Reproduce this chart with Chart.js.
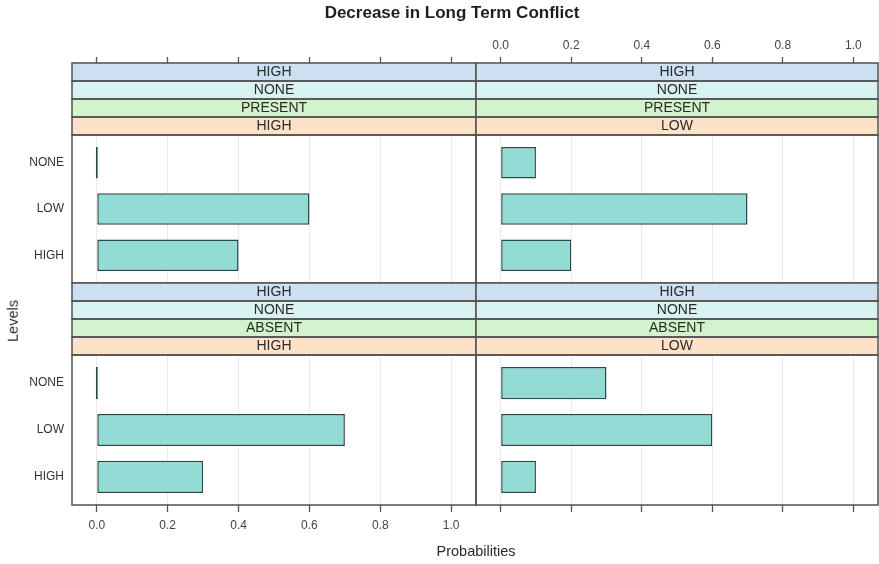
<!DOCTYPE html>
<html>
<head>
<meta charset="utf-8">
<title>Decrease in Long Term Conflict</title>
<script src="https://cdn.jsdelivr.net/npm/chart.js@4.4.1/dist/chart.umd.min.js"></script>
<style>
  html, body { margin: 0; padding: 0; background: #fff; }
  #wrap { position: relative; width: 879px; height: 564px; overflow: hidden;
          font-family: "Liberation Sans", Arial, sans-serif; }
  #wrap canvas { position: absolute; left: 0; top: 0; }
  .lbl { position: absolute; white-space: nowrap; color: #1e1e1e; }
  #title { left: 452px; top: 4px; transform: translateX(-50%); font-weight: bold;
           font-size: 17px; line-height: 17px; }
  #xlab { left: 476px; top: 543.5px; transform: translateX(-50%); font-size: 14.5px; line-height: 14.5px; color: #2a2a2a; }
  #ylab { left: 12.5px; top: 321px; transform: translate(-50%, -50%) rotate(-90deg);
          font-size: 14.5px; line-height: 14.5px; color: #2a2a2a; }
</style>
</head>
<body>
<div id="wrap">
  <canvas id="pTL" width="879" height="564"></canvas>
  <canvas id="pTR" width="879" height="564"></canvas>
  <canvas id="pBL" width="879" height="564"></canvas>
  <canvas id="pBR" width="879" height="564"></canvas>
  <div class="lbl" id="title">Decrease in Long Term Conflict</div>
  <div class="lbl" id="ylab">Levels</div>
  <div class="lbl" id="xlab">Probabilities</div>
</div>
<script>
// Response levels (top to bottom) and probability axis ticks
const LEVELS = ['NONE', 'LOW', 'HIGH'];
const X_TICKS = [0.0, 0.2, 0.4, 0.6, 0.8, 1.0];

// Conditioning labels for each panel, outermost strip first
const STRIPS_TL = ['HIGH', 'NONE', 'PRESENT', 'HIGH'];
const STRIPS_TR = ['HIGH', 'NONE', 'PRESENT', 'LOW'];
const STRIPS_BL = ['HIGH', 'NONE', 'ABSENT', 'HIGH'];
const STRIPS_BR = ['HIGH', 'NONE', 'ABSENT', 'LOW'];

// Probabilities per level (NONE, LOW, HIGH)
const PROB_TL = [0.0, 0.6, 0.4];
const PROB_TR = [0.1, 0.7, 0.2];
const PROB_BL = [0.0, 0.7, 0.3];
const PROB_BR = [0.3, 0.6, 0.1];

const W = 879, H = 564;
const FONT = '"Liberation Sans", Arial, sans-serif';
const STRIP_H = 18;
const STRIP_FILLS = ['#cde0f2', '#d8f1f1', '#d2f3cb', '#fde2c8'];
const FRAME = '#505050';

// Draws the strip stack above each panel plus the panel frame
const stripPlugin = {
  id: 'strips',
  afterDraw(chart, args, opts) {
    const { ctx, chartArea: a } = chart;
    const labels = opts.labels || [];
    const top = a.top - STRIP_H * labels.length;
    const w = a.right - a.left;
    ctx.save();
    labels.forEach((t, i) => {
      ctx.fillStyle = STRIP_FILLS[i % STRIP_FILLS.length];
      ctx.fillRect(a.left, top + i * STRIP_H, w, STRIP_H);
    });
    ctx.strokeStyle = FRAME;
    ctx.lineWidth = 1.5;
    labels.forEach((t, i) => ctx.strokeRect(a.left, top + i * STRIP_H, w, STRIP_H));
    ctx.strokeRect(a.left, a.top, w, a.bottom - a.top);
    ctx.fillStyle = '#2a2a2a';
    ctx.font = '14px ' + FONT;
    ctx.textAlign = 'center';
    ctx.textBaseline = 'middle';
    labels.forEach((t, i) => ctx.fillText(t, (a.left + a.right) / 2, top + i * STRIP_H + STRIP_H / 2 + 0.5));
    ctx.restore();
  }
};

function panel(id, probs, strips, o) {
  const isTop = o.xPos === 'top';
  new Chart(document.getElementById(id), {
    type: 'bar',
    data: {
      datasets: [{
        data: probs.map((p, i) => ({ x: p, y: i + 1 })),
        backgroundColor: '#93dcd5',
        borderColor: '#284b48',
        borderWidth: 1.5,
        borderSkipped: false,
        barPercentage: 0.685,
        categoryPercentage: 1,
        minBarLength: 2
      }]
    },
    options: {
      indexAxis: 'y',
      responsive: false,
      animation: false,
      devicePixelRatio: 1,
      layout: {
        padding: {
          left: o.showY ? 0 : o.left,
          right: W - o.right,
          top: isTop ? 0 : o.top,
          bottom: isTop ? H - o.bottom : 0
        }
      },
      scales: {
        x: {
          type: 'linear',
          position: o.xPos,
          min: -0.07,
          max: 1.07,
          afterBuildTicks: s => { s.ticks = X_TICKS.map(v => ({ value: v })); },
          afterFit: s => { s.height = isTop ? o.top : H - o.bottom; },
          grid: {
            color: '#e9e9e9', lineWidth: 1,
            tickColor: '#555', tickWidth: 1.3,
            tickLength: isTop ? o.top - 57 : 7
          },
          border: { display: false },
          ticks: {
            display: o.xLabels,
            padding: isTop ? 4 : 6,
            color: '#444',
            font: { family: FONT, size: 12 },
            maxRotation: 0,
            autoSkip: false,
            callback: v => Number(v).toFixed(1)
          }
        },
        y: {
          type: 'linear',
          display: o.showY,
          offset: false,
          min: 0.4,
          max: 3.6,
          reverse: true,
          afterBuildTicks: s => { s.ticks = LEVELS.map((_, i) => ({ value: i + 1 })); },
          afterFit: s => { s.width = o.showY ? o.left : 0; },
          grid: { display: false, drawTicks: false },
          border: { display: false },
          ticks: {
            padding: 8,
            color: '#333',
            font: { family: FONT, size: 12 },
            callback: v => LEVELS[Math.round(v) - 1]
          }
        }
      },
      plugins: {
        legend: { display: false },
        tooltip: { enabled: false },
        strips: { labels: strips }
      }
    },
    plugins: [stripPlugin]
  });
}

panel('pTL', PROB_TL, STRIPS_TL, { left: 72, right: 476, top: 135, bottom: 283, xPos: 'top', xLabels: false, showY: true });
panel('pTR', PROB_TR, STRIPS_TR, { left: 476, right: 878, top: 135, bottom: 283, xPos: 'top', xLabels: true, showY: false });
panel('pBL', PROB_BL, STRIPS_BL, { left: 72, right: 476, top: 355, bottom: 505, xPos: 'bottom', xLabels: true, showY: true });
panel('pBR', PROB_BR, STRIPS_BR, { left: 476, right: 878, top: 355, bottom: 505, xPos: 'bottom', xLabels: false, showY: false });
</script>
</body>
</html>
